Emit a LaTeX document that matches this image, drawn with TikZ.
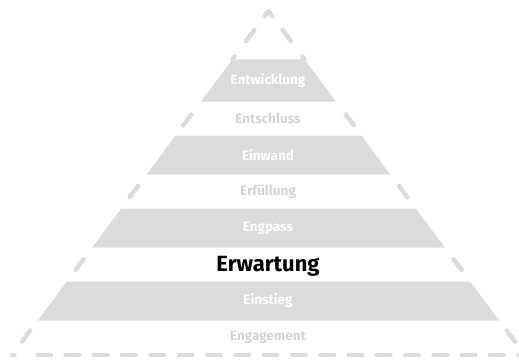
\documentclass[tikz,border=0pt]{standalone}
\usepackage{fontspec}
\setmainfont{Fira Sans}
\usetikzlibrary{calc}
\definecolor{bandgray}{RGB}{218,219,221}
\definecolor{faintgray}{RGB}{210,211,213}
\begin{document}
\begin{tikzpicture}[x=1pt,y=-1pt,
  bandfill/.style={fill=bandgray},
  edgedash/.style={draw=bandgray, line width=4.5pt, line cap=round, line join=round},
  basedash/.style={edgedash, dash pattern=on 13.6pt off 14.7pt},
  onband/.style={text=white, font=\bfseries\fontsize{13.5}{14}\selectfont},
  offband/.style={text=faintgray, font=\bfseries\fontsize{13.5}{14}\selectfont},
  focus/.style={text=black, font=\bfseries\fontsize{22}{24}\selectfont}]
\useasboundingbox (0,0) rectangle (519,362);
\clip (0,0) rectangle (519,362);
% pyramid corners
\coordinate (apex) at (268.5,11);
\coordinate (bl) at (12,355);
\coordinate (br) at (525,355);
% apex mark
\draw[edgedash] ($(apex)!0.015!(bl)$) -- (apex) -- ($(apex)!0.015!(br)$);
% one dash on each side in every open row
\foreach \yc in {35.5, 120, 191.5, 264.5, 336}{
  \pgfmathsetmacro{\ta}{(\yc-5.5-11)/344}
  \pgfmathsetmacro{\tb}{(\yc+5.5-11)/344}
  \draw[edgedash] ($(apex)!\ta!(bl)$) -- ($(apex)!\tb!(bl)$);
  \draw[edgedash] ($(apex)!\ta!(br)$) -- ($(apex)!\tb!(br)$);
}
% small nubs above the top band corners
\pgfmathsetmacro{\ta}{(56.5-11)/344}
\pgfmathsetmacro{\tb}{(59-11)/344}
\draw[edgedash] ($(apex)!\ta!(bl)$) -- ($(apex)!\tb!(bl)$);
\draw[edgedash] ($(apex)!\ta!(br)$) -- ($(apex)!\tb!(br)$);
% base line
\draw[edgedash] (bl) -- ++(2.5,0);
\draw[basedash] ($(bl)+(25.3,0)$) -- (br);
% filled bands: top and bottom y of each band
\foreach \ya/\yb in {59.5/101.5, 135.5/174.5, 208.5/247.5, 281.5/320.5}{
  \pgfmathsetmacro{\ta}{(\ya-11)/344}
  \pgfmathsetmacro{\tb}{(\yb-11)/344}
  \fill[bandfill] ($(apex)!\ta!(bl)$) -- ($(apex)!\ta!(br)$)
    -- ($(apex)!\tb!(br)$) -- ($(apex)!\tb!(bl)$) -- cycle;
}
% labels
\node[onband]  (l1) at (268,80.5)  {Entwicklung};
\node[offband] (l2) at (268,118)   {Entschluss};
\node[onband]  (l3) at (268,155)   {Einwand};
\node[offband] (l4) at (268,191.5) {Erfüllung};
\node[onband]  (l5) at (268,228)   {Engpass};
\node[focus]   (l6) at (268,266)   {Erwartung};
\node[onband]  (l7) at (268,301)   {Einstieg};
\node[offband] (l8) at (268,337.5) {Engagement};
\end{tikzpicture}
\end{document}
